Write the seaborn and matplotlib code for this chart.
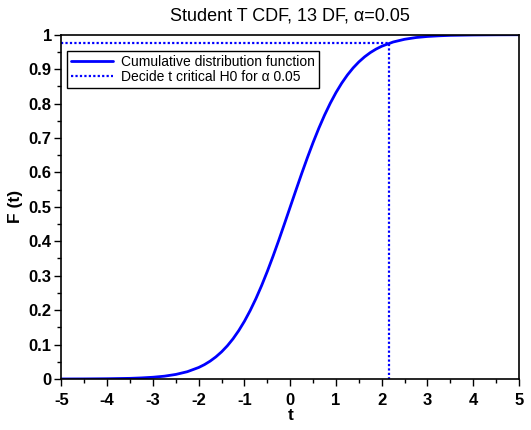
import numpy as np
import pandas as pd
import matplotlib
matplotlib.use("Agg")
import matplotlib.pyplot as plt
import seaborn as sns
from matplotlib.ticker import MultipleLocator, FormatStrFormatter

# values (Student t, 13 degrees of freedom)
t_vals = [-5, -4.5, -4, -3.5, -3.25, -3, -2.75, -2.5, -2.25, -2,
          -1.875, -1.75, -1.625, -1.5, -1.375, -1.25, -1.125, -1,
          -0.875, -0.75, -0.625, -0.5, -0.375, -0.25, -0.125, 0,
          0.125, 0.25, 0.375, 0.5, 0.625, 0.75, 0.875, 1,
          1.125, 1.25, 1.375, 1.5, 1.625, 1.75, 1.875, 2,
          2.25, 2.5, 2.75, 3, 3.25, 3.5, 4, 4.5, 5]
cdf_vals = [0.0001, 0.0003, 0.0008, 0.0019, 0.0032, 0.0051, 0.0082, 0.0133, 0.0212, 0.0335,
            0.0418, 0.0520, 0.0643, 0.0790, 0.0964, 0.1169, 0.1407, 0.1680,
            0.1990, 0.2335, 0.2716, 0.3129, 0.3570, 0.4033, 0.4513, 0.5,
            0.5487, 0.5967, 0.6430, 0.6871, 0.7284, 0.7665, 0.8010, 0.8320,
            0.8593, 0.8831, 0.9036, 0.9210, 0.9357, 0.9480, 0.9582, 0.9665,
            0.9788, 0.9867, 0.9918, 0.9949, 0.9968, 0.9981, 0.9992, 0.9997, 0.9999]
crit_t = 2.16    # t critical
crit_p = 0.975   # 1 - alpha/2

df = pd.DataFrame({'t': t_vals, 'F': cdf_vals})
crit = pd.DataFrame({'t': [-5, crit_t, crit_t], 'F': [crit_p, crit_p, 0]})

sns.set_style("white")
plt.rcParams['font.family'] = ['Liberation Sans', 'DejaVu Sans']
plt.rcParams['text.color'] = 'black'
plt.rcParams['axes.labelcolor'] = 'black'
plt.rcParams['xtick.color'] = 'black'
plt.rcParams['ytick.color'] = 'black'

fig = plt.figure(figsize=(5.31, 4.30), dpi=100)
ax = fig.add_axes([0.1158, 0.1186, 0.8616, 0.8007])

sns.lineplot(data=df, x='t', y='F', ax=ax, color='#0000ff', linewidth=2.0,
             label='Cumulative distribution function', sort=False,
             estimator=None, errorbar=None)
sns.lineplot(data=crit, x='t', y='F', ax=ax, color='#0000ff', linewidth=1.6,
             linestyle=(0, (1, 1)), label='Decide t critical H0 for \u03b1 0.05',
             sort=False, estimator=None, errorbar=None)

ax.set_xlim(-5, 5)
ax.set_ylim(0, 1)
ax.xaxis.set_major_locator(MultipleLocator(1))
ax.xaxis.set_minor_locator(MultipleLocator(0.5))
ax.yaxis.set_major_locator(MultipleLocator(0.1))
ax.yaxis.set_minor_locator(MultipleLocator(0.05))
ax.yaxis.set_major_formatter(FormatStrFormatter('%g'))
ax.xaxis.set_major_formatter(FormatStrFormatter('%g'))
ax.tick_params(which='major', direction='out', length=5, width=1, color='black',
               labelcolor='black', labelsize=12,
               bottom=True, left=True, top=False, right=False)
ax.tick_params(axis='x', which='major', pad=5)
ax.tick_params(axis='y', which='major', pad=2)
ax.tick_params(which='minor', direction='out', length=3, width=1, color='black',
               bottom=True, left=True, top=False, right=False)
for lab in ax.get_xticklabels() + ax.get_yticklabels():
    lab.set_fontweight('bold')
for s in ax.spines.values():
    s.set_color('black')
    s.set_linewidth(1.2)
    s.set_zorder(5)

ax.set_title('Student T CDF, 13 DF, \u03b1=0.05', fontsize=13, pad=10, color='black')
ax.set_xlabel('t', fontsize=12.5, fontweight='bold', labelpad=0, color='black')
ax.set_ylabel('F (t)', fontsize=12.5, fontweight='bold', labelpad=4, color='black')

leg = ax.legend(loc='upper left', bbox_to_anchor=(0.012, 0.953), borderaxespad=0,
                fontsize=10, fancybox=False, framealpha=1, edgecolor='black',
                handlelength=3.0, handletextpad=0.6, borderpad=0.3, labelspacing=0.05)
leg.get_frame().set_linewidth(1)
for txt in leg.get_texts():
    txt.set_color('black')

fig.savefig('out.png', dpi=100)
